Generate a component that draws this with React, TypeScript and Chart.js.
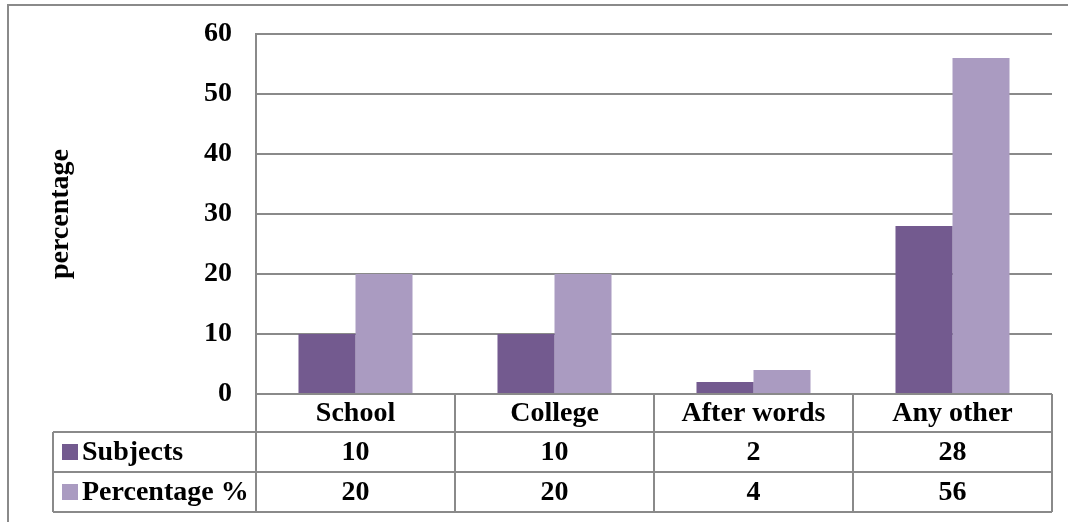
import React, { useEffect, useRef } from "react";
import { Chart, registerables } from "chart.js";

Chart.register(...registerables);

const categories = ["School", "College", "After words", "Any other"];
const subjects = [10, 10, 2, 28];
const percentage = [20, 20, 4, 56];
const seriesNames = ["Subjects", "Percentage %"];
const yMin = 0;
const yMax = 60;
const yStep = 10;
const axisTitle = "percentage";

const FONT = '"Liberation Serif", "Times New Roman", serif';
const FONT_SIZE = 28;
const DARK = "#735A8F";
const LIGHT = "#AA9BC1";
const LINE = "#8A8A8A";

const W = 1068;
const H = 522;

const tablePlugin = {
  id: "dataTable",
  beforeDraw(chart: any) {
    const ctx = chart.ctx;
    ctx.save();
    ctx.strokeStyle = LINE;
    ctx.lineWidth = 2;
    ctx.beginPath();
    ctx.moveTo(8, H + 5);
    ctx.lineTo(8, 5);
    ctx.lineTo(W + 5, 5);
    ctx.stroke();
    ctx.restore();
  },
  afterDraw(chart: any) {
    const ctx = chart.ctx;
    const xs = chart.scales.x;
    const area = chart.chartArea;
    const n = categories.length;
    const cw = xs.width / n;
    const top = area.bottom;
    const r1 = top + 38;
    const r2 = r1 + 40;
    const r3 = r2 + 40;
    const legLeft = 53;
    ctx.save();
    ctx.strokeStyle = LINE;
    ctx.lineWidth = 2;
    ctx.beginPath();
    [r1, r2, r3].forEach((y) => {
      ctx.moveTo(legLeft, y);
      ctx.lineTo(area.right, y);
    });
    for (let i = 0; i <= n; i++) {
      const x = i < n ? xs.getPixelForValue(i) - cw / 2 : xs.getPixelForValue(n - 1) + cw / 2;
      ctx.moveTo(x, top);
      ctx.lineTo(x, r3);
    }
    ctx.moveTo(legLeft, r1);
    ctx.lineTo(legLeft, r3);
    ctx.stroke();

    ctx.fillStyle = "#000";
    ctx.font = `bold ${FONT_SIZE}px ${FONT}`;
    ctx.textAlign = "center";
    ctx.textBaseline = "middle";
    const rows = [subjects, percentage];
    for (let i = 0; i < n; i++) {
      const cx = xs.getPixelForValue(i);
      ctx.fillText(categories[i], cx, (top + r1) / 2 + 1);
      ctx.fillText(String(rows[0][i]), cx, (r1 + r2) / 2 + 1);
      ctx.fillText(String(rows[1][i]), cx, (r2 + r3) / 2 + 1);
    }
    const colors = [DARK, LIGHT];
    const rowTops = [r1, r2];
    for (let s = 0; s < 2; s++) {
      const cy = rowTops[s] + 20;
      ctx.fillStyle = colors[s];
      ctx.fillRect(62, cy - 8, 16, 16);
      ctx.fillStyle = "#000";
      ctx.textAlign = "left";
      ctx.fillText(seriesNames[s], 82, cy + 1);
    }
    ctx.restore();
  },
};

export default function App() {
  const ref = useRef<HTMLCanvasElement | null>(null);
  useEffect(() => {
    if (!ref.current) return;
    const chart = new Chart(ref.current, {
      type: "bar",
      data: {
        labels: categories,
        datasets: [
          { label: seriesNames[0], data: subjects, backgroundColor: DARK, borderWidth: 0 },
          { label: seriesNames[1], data: percentage, backgroundColor: LIGHT, borderWidth: 0 },
        ],
      },
      options: {
        responsive: false,
        animation: false,
        devicePixelRatio: 1,
        categoryPercentage: 0.573,
        barPercentage: 1,
        layout: { padding: { left: 0, top: 34, right: W - 1052, bottom: H - 394 } },
        plugins: { legend: { display: false }, tooltip: { enabled: false }, title: { display: false } },
        scales: {
          x: {
            display: false,
            grid: { display: false },
          },
          y: {
            min: yMin,
            max: yMax,
            ticks: {
              stepSize: yStep,
              padding: 24,
              color: "#000",
              font: { family: FONT, size: FONT_SIZE, weight: "bold" },
            },
            grid: { color: LINE, lineWidth: 2, drawTicks: false },
            border: { display: true, color: LINE, width: 2 },
            title: {
              display: true,
              text: axisTitle,
              color: "#000",
              font: { family: FONT, size: FONT_SIZE, weight: "bold" },
              padding: { top: 44, bottom: 0 },
            },
            afterFit(scale: any) {
              scale.width = 256;
              scale.paddingTop = 0;
              scale.paddingBottom = 0;
            },
          },
        },
      },
      plugins: [tablePlugin],
    } as any);
    return () => chart.destroy();
  }, []);
  return (
    <div style={{ position: "fixed", left: 0, top: 0, width: W, height: H, background: "#fff" }}>
      <canvas ref={ref} width={W} height={H} style={{ display: "block", width: W, height: H }} />
    </div>
  );
}
